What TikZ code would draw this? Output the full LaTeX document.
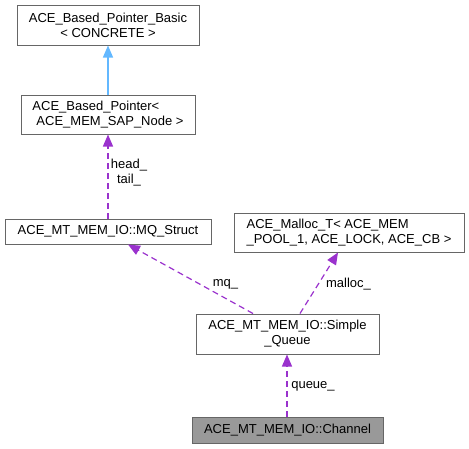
\documentclass[tikz,border=0pt]{standalone}
\usepackage{fontspec}
\setmainfont{Liberation Sans}
\usetikzlibrary{arrows.meta}
\definecolor{edgepurple}{HTML}{9A32CD}
\definecolor{edgeblue}{HTML}{63B8FF}
\definecolor{boxborder}{HTML}{666666}
\definecolor{curfill}{HTML}{999999}
\begin{document}
\begin{tikzpicture}[x=1pt,y=-1pt,
  font=\fontsize{13}{15}\selectfont,
  cls/.style={draw=boxborder, line width=1pt, fill=white, align=center, inner sep=0pt},
  clsl/.style={cls, align=left, inner xsep=11pt},
  cur/.style={cls, fill=curfill},
  inherit/.style={draw=edgeblue, line width=1.2pt, -{Triangle[length=12pt,width=10pt]}},
  usage/.style={draw=edgepurple, line width=1.2pt, dash pattern=on 6pt off 4pt, -{Triangle[length=12pt,width=10pt]}},
  lbl/.style={align=center, inner sep=0pt}]
\useasboundingbox (0,0) rectangle (469,448);
\node[cls, minimum width=182pt, minimum height=40pt] (n1) at (108,25) {ACE\_Based\_Pointer\_Basic\\< CONCRETE >};
\node[clsl, minimum width=174pt, minimum height=39pt] (n2) at (108,114.5) {ACE\_Based\_Pointer<\\\hspace*{4pt}ACE\_MEM\_SAP\_Node >};
\node[cls, minimum width=206pt, minimum height=25pt] (n3) at (108,231.5) {ACE\_MT\_MEM\_IO::MQ\_Struct};
\node[clsl, minimum width=230pt, minimum height=39pt] (n4) at (349,232.5) {ACE\_Malloc\_T< ACE\_MEM\\\_POOL\_1, ACE\_LOCK, ACE\_CB >};
\node[cls, minimum width=183pt, minimum height=40pt] (n5) at (287.5,334) {ACE\_MT\_MEM\_IO::Simple\\\_Queue};
\node[cur, minimum width=191pt, minimum height=26pt] (n6) at (287.5,430) {ACE\_MT\_MEM\_IO::Channel};
\draw[inherit] (n2.north) -- (n1.south);
\draw[usage] (n3.north) -- (n2.south);
\draw[usage] ([xshift=-34.5pt]n5.north) -- ([xshift=20pt]n3.south);
\draw[usage] ([xshift=12.5pt]n5.north) -- ([xshift=-11pt]n4.south);
\draw[usage] ([xshift=-0.5pt]n6.north) -- ([xshift=-0.5pt]n5.south);
\node[lbl] (l1) at (129,172.5) {head\_\\tail\_};
\node[lbl] (l2) at (225.5,284) {mq\_};
\node[lbl] (l3) at (348.5,284) {malloc\_};
\node[lbl] (l4) at (313,386) {queue\_};
\end{tikzpicture}
\end{document}
